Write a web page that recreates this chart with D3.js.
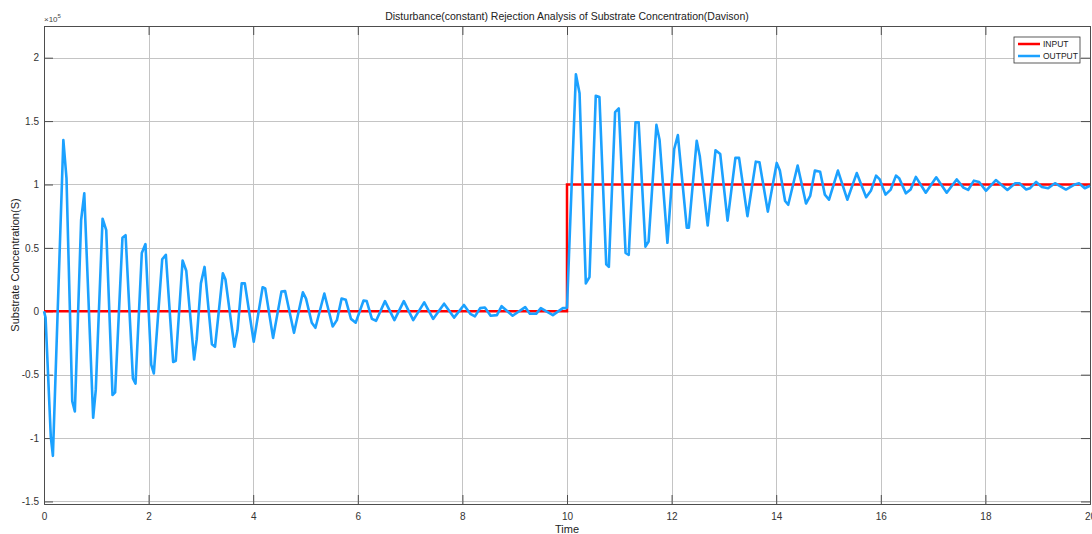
<!DOCTYPE html>
<html>
<head>
<meta charset="utf-8">
<script src="https://cdn.jsdelivr.net/npm/d3@7"></script>
<style>
  body { margin: 0; background: #fff; }
  svg { display: block; font-family: "Liberation Sans", Arial, sans-serif; }
  .grid line { stroke: #c4c4c4; stroke-width: 1; }
  .axis path, .axis line { stroke: #4d4d4d; }
  .axis text { fill: #333; font-size: 10px; }
</style>
</head>
<body>
<svg id="chart" width="1092" height="534"></svg>
<script>
// values are in units of 1e5 (axis shows "x10^5")
const xTicks = [0, 2, 4, 6, 8, 10, 12, 14, 16, 18, 20];
const yTicks = [-1.5, -1, -0.5, 0, 0.5, 1, 1.5, 2];

const inputPoints = [[0, 0], [10, 0], [10, 1], [20, 1]];

// output before the step (t = 0..10)
const outputBefore = [
  [0, 0], [0.03, -0.05], [0.13, -0.99], [0.17, -1.14], [0.37, 1.35], [0.43, 1.05],
  [0.54, -0.71], [0.59, -0.79], [0.71, 0.72], [0.77, 0.93], [0.94, -0.84], [0.99, -0.62],
  [1.12, 0.73], [1.19, 0.64], [1.31, -0.66], [1.36, -0.64], [1.50, 0.58], [1.56, 0.60],
  [1.70, -0.53], [1.75, -0.57], [1.87, 0.46], [1.94, 0.53], [2.05, -0.42], [2.10, -0.49],
  [2.26, 0.41], [2.33, 0.445], [2.47, -0.40], [2.52, -0.39], [2.65, 0.40], [2.72, 0.32],
  [2.87, -0.38], [2.92, -0.22], [3.00, 0.22], [3.07, 0.35], [3.21, -0.26], [3.27, -0.28],
  [3.42, 0.30], [3.47, 0.25], [3.64, -0.28], [3.70, -0.15], [3.78, 0.22], [3.84, 0.22],
  [4.01, -0.24], [4.18, 0.19], [4.23, 0.18], [4.38, -0.21], [4.54, 0.155], [4.61, 0.16],
  [4.78, -0.17], [4.95, 0.15], [5.01, 0.10], [5.12, -0.09], [5.19, -0.13], [5.36, 0.14],
  [5.52, -0.12], [5.60, -0.07], [5.69, 0.10], [5.77, 0.09], [5.87, -0.06], [5.96, -0.09],
  [6.11, 0.085], [6.17, 0.08], [6.27, -0.06], [6.35, -0.075], [6.52, 0.08], [6.70, -0.07],
  [6.88, 0.08], [7.06, -0.07], [7.27, 0.07], [7.44, -0.06], [7.65, 0.06], [7.84, -0.05],
  [8.03, 0.05], [8.15, -0.02], [8.24, -0.04], [8.34, 0.025], [8.43, 0.03], [8.54, -0.035],
  [8.66, -0.03], [8.75, 0.04], [8.96, -0.035], [9.20, 0.033], [9.29, -0.02], [9.41, -0.02],
  [9.50, 0.025], [9.73, -0.03], [9.92, 0.025], [9.99, 0.025]
];

// output after the step (t = 10..20)
const outputAfter = [
  [10.00, 0.03], [10.17, 1.87], [10.24, 1.72], [10.36, 0.22], [10.43, 0.27], [10.55, 1.70],
  [10.62, 1.69], [10.75, 0.37], [10.80, 0.35], [10.92, 1.57], [10.99, 1.60], [11.12, 0.46],
  [11.18, 0.445], [11.31, 1.49], [11.37, 1.49], [11.50, 0.51], [11.56, 0.55], [11.71, 1.47],
  [11.77, 1.35], [11.92, 0.54], [12.05, 1.28], [12.12, 1.39], [12.29, 0.66], [12.33, 0.66],
  [12.48, 1.345], [12.54, 1.22], [12.69, 0.676], [12.84, 1.27], [12.93, 1.24], [13.07, 0.715],
  [13.22, 1.21], [13.29, 1.21], [13.45, 0.75], [13.61, 1.18], [13.68, 1.175], [13.84, 0.786],
  [14.01, 1.17], [14.07, 1.11], [14.17, 0.87], [14.23, 0.84], [14.41, 1.15], [14.57, 0.85],
  [14.65, 0.91], [14.74, 1.11], [14.84, 1.10], [14.93, 0.92], [15.01, 0.88], [15.18, 1.11],
  [15.36, 0.88], [15.54, 1.09], [15.72, 0.90], [15.81, 0.95], [15.91, 1.07], [15.98, 1.04],
  [16.09, 0.92], [16.19, 0.96], [16.29, 1.07], [16.35, 1.05], [16.48, 0.93], [16.57, 0.96],
  [16.67, 1.06], [16.86, 0.935], [17.06, 1.057], [17.26, 0.935], [17.45, 1.04], [17.58, 0.975],
  [17.67, 0.957], [17.78, 1.03], [17.88, 1.02], [18.01, 0.95], [18.20, 1.035], [18.42, 0.957],
  [18.57, 1.01], [18.65, 1.01], [18.78, 0.96], [18.85, 0.97], [18.97, 1.02], [19.08, 0.98],
  [19.20, 0.97], [19.33, 1.01], [19.54, 0.96], [19.71, 1.00], [19.79, 1.01], [19.90, 0.97],
  [20.00, 0.99]
];

const legendItems = [
  { name: "INPUT", color: "#ff0000" },
  { name: "OUTPUT", color: "#1ba1ff" }
];

const svg = d3.select("#chart");
const m = { left: 44, right: 1090, top: 26, bottom: 504 };

const x = d3.scaleLinear().domain([0, 20]).range([m.left, m.right]);
const y = d3.scaleLinear().domain([-1.52, 2.25]).range([m.bottom, m.top]);

// grid
const grid = svg.append("g").attr("class", "grid");
grid.selectAll(".gx").data(xTicks).enter().append("line")
  .attr("x1", d => Math.round(x(d)) + 0.5).attr("x2", d => Math.round(x(d)) + 0.5)
  .attr("y1", m.top).attr("y2", m.bottom);
grid.selectAll(".gy").data(yTicks).enter().append("line")
  .attr("y1", d => Math.round(y(d)) + 0.5).attr("y2", d => Math.round(y(d)) + 0.5)
  .attr("x1", m.left).attr("x2", m.right);

// axes (ticks inside, box on all sides)
svg.append("g").attr("class", "axis").attr("transform", `translate(0,${m.bottom})`)
  .call(d3.axisBottom(x).tickValues(xTicks).tickSize(-9).tickPadding(9).tickFormat(d => d));
svg.append("g").attr("class", "axis").attr("transform", `translate(${m.left},0)`)
  .call(d3.axisLeft(y).tickValues(yTicks).tickSize(-9).tickPadding(5).tickFormat(d => d));
svg.append("g").attr("class", "axis").attr("transform", `translate(0,${m.top})`)
  .call(d3.axisTop(x).tickValues(xTicks).tickSize(-9).tickFormat(""));
svg.append("g").attr("class", "axis").attr("transform", `translate(${m.right},0)`)
  .call(d3.axisRight(y).tickValues(yTicks).tickSize(-9).tickFormat(""));

// lines
const line = d3.line().x(d => x(d[0])).y(d => y(d[1]));
const plot = svg.append("g");
plot.append("path").datum(inputPoints).attr("d", line)
  .attr("fill", "none").attr("stroke", legendItems[0].color).attr("stroke-width", 2.5);
plot.append("path").datum(outputBefore.concat(outputAfter)).attr("d", line)
  .attr("fill", "none").attr("stroke", legendItems[1].color).attr("stroke-width", 2.6)
  .attr("stroke-linejoin", "round");

// texts
svg.append("text").attr("x", 567).attr("y", 20).attr("text-anchor", "middle")
  .attr("font-size", 10.5).attr("fill", "#222")
  .text("Disturbance(constant) Rejection Analysis of Substrate Concentration(Davison)");
svg.append("text").attr("x", 567).attr("y", 533).attr("text-anchor", "middle")
  .attr("font-size", 11).attr("fill", "#222").text("Time");
svg.append("text").attr("transform", "translate(19,265) rotate(-90)").attr("text-anchor", "middle")
  .attr("font-size", 11).attr("fill", "#222").text("Substrate Concentration(S)");
const exp = svg.append("text").attr("x", 44).attr("y", 22).attr("font-size", 8).attr("fill", "#444");
exp.append("tspan").text("\u00d710");
exp.append("tspan").attr("dy", -4).attr("font-size", 6).text("5");

// legend
const lg = svg.append("g").attr("transform", "translate(1014,37)");
lg.append("rect").attr("width", 66).attr("height", 26).attr("fill", "#fff")
  .attr("stroke", "#333").attr("stroke-width", 0.8);
lg.selectAll(".li").data(legendItems).enter().append("g")
  .attr("transform", (d, i) => `translate(4,${7 + i * 12})`)
  .each(function (d) {
    const g = d3.select(this);
    g.append("line").attr("x1", 0).attr("x2", 22).attr("stroke", d.color).attr("stroke-width", 2.5);
    g.append("text").attr("x", 25).attr("y", 3).attr("font-size", 8.5).attr("fill", "#222").text(d.name);
  });
</script>
</body>
</html>
